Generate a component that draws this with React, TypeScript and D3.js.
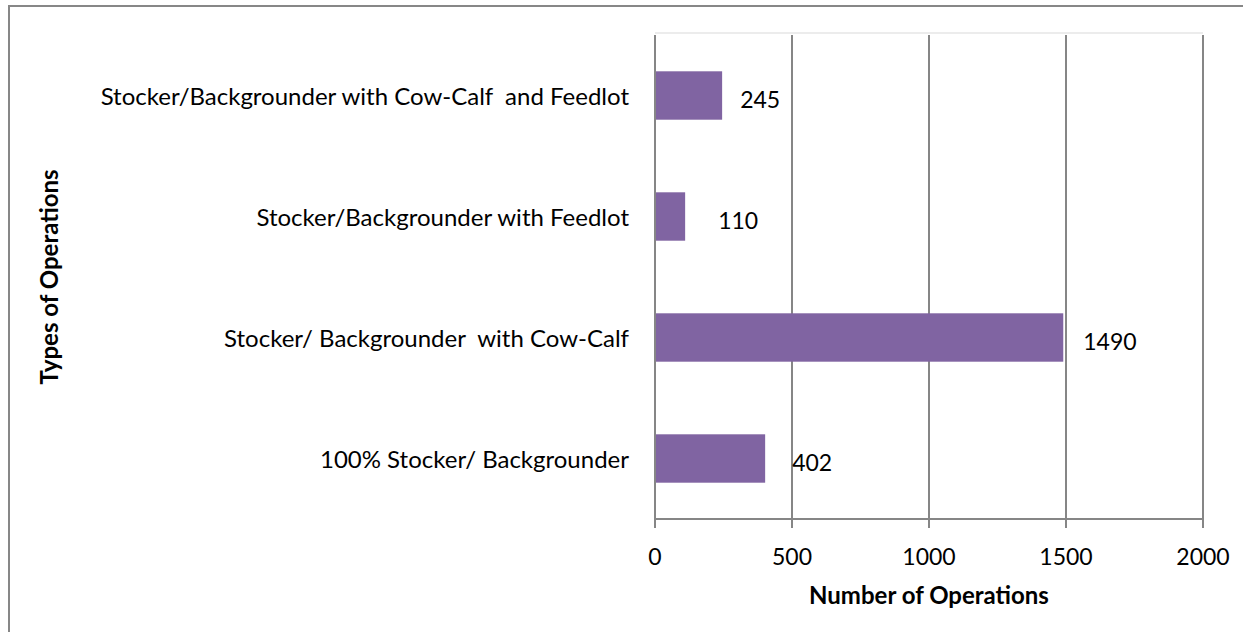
import React from "react";
import * as d3 from "d3";

// Operation types, listed top to bottom
const categories: string[] = [
  "Stocker/Backgrounder with Cow-Calf  and Feedlot",
  "Stocker/Backgrounder with Feedlot",
  "Stocker/ Backgrounder  with Cow-Calf",
  "100% Stocker/ Backgrounder",
];
const operations: number[] = [245, 110, 1490, 402];
const xTicks: number[] = [0, 500, 1000, 1500, 2000];
// small horizontal nudges for the value labels
const labelNudge: number[] = [18, 33, 20, 27];

const W = 1243;
const H = 632;
const FONT = "Lato, 'Open Sans', sans-serif";
const TEXT_SIZE = 24;
const NUM_SIZE = 23;

export default function App() {
  const margin = { left: 655, right: 40, top: 35, bottom: 113 };
  const x = d3
    .scaleLinear()
    .domain([0, 2000])
    .range([margin.left, 1203]);
  const y = d3
    .scaleBand<string>()
    .domain(categories)
    .range([margin.top, H - margin.bottom])
    .paddingInner(0.6)
    .paddingOuter(0.3);
  const plotTop = margin.top;
  const plotBottom = H - margin.bottom;
  const grid = "#868686";

  return (
    <svg
      width={W}
      height={H}
      style={{ position: "absolute", left: 0, top: 0, background: "#fff" }}
    >
      <rect x={9} y={6} width={W} height={H} fill="#fff" stroke="#878787" strokeWidth={2} />
      <line x1={x(0)} x2={x(2000)} y1={plotTop - 2} y2={plotTop - 2} stroke="#ececec" strokeWidth={2} />

      {xTicks.map((t) => (
        <g key={t}>
          <line x1={x(t)} x2={x(t)} y1={plotTop} y2={plotBottom + 9} stroke={grid} strokeWidth={2} />
          <text
            x={x(t)}
            y={plotBottom + 46}
            textAnchor="middle"
            fontFamily={FONT}
            fontSize={NUM_SIZE}
            fill="#000"
          >
            {t}
          </text>
        </g>
      ))}
      <line x1={x(0) - 1} x2={x(2000) + 1} y1={plotBottom} y2={plotBottom} stroke={grid} strokeWidth={2} />

      {categories.map((c, i) => {
        const yc = (y(c) as number) + y.bandwidth() / 2;
        return (
          <g key={c}>
            <rect
              x={x(0) + 1}
              y={y(c)}
              width={x(operations[i]) - x(0) - 1}
              height={y.bandwidth()}
              fill="#8064A2"
            />
            <text
              x={x(operations[i]) + labelNudge[i]}
              y={yc + 12}
              fontFamily={FONT}
              fontSize={NUM_SIZE}
              fill="#000"
            >
              {operations[i]}
            </text>
            <text
              x={x(0) - 26}
              y={yc + 9}
              textAnchor="end"
              fontFamily={FONT}
              fontSize={TEXT_SIZE}
              fill="#000"
              style={{ whiteSpace: "pre" }}
            >
              {c}
            </text>
          </g>
        );
      })}

      <text
        x={(x(0) + x(2000)) / 2}
        y={plotBottom + 85}
        textAnchor="middle"
        fontFamily={FONT}
        fontWeight="bold"
        fontSize={TEXT_SIZE}
        fill="#000"
      >
        Number of Operations
      </text>
      <text
        transform={`translate(58, ${(plotTop + plotBottom) / 2}) rotate(-90)`}
        textAnchor="middle"
        fontFamily={FONT}
        fontWeight="bold"
        fontSize={TEXT_SIZE}
        fill="#000"
      >
        Types of Operations
      </text>
    </svg>
  );
}
